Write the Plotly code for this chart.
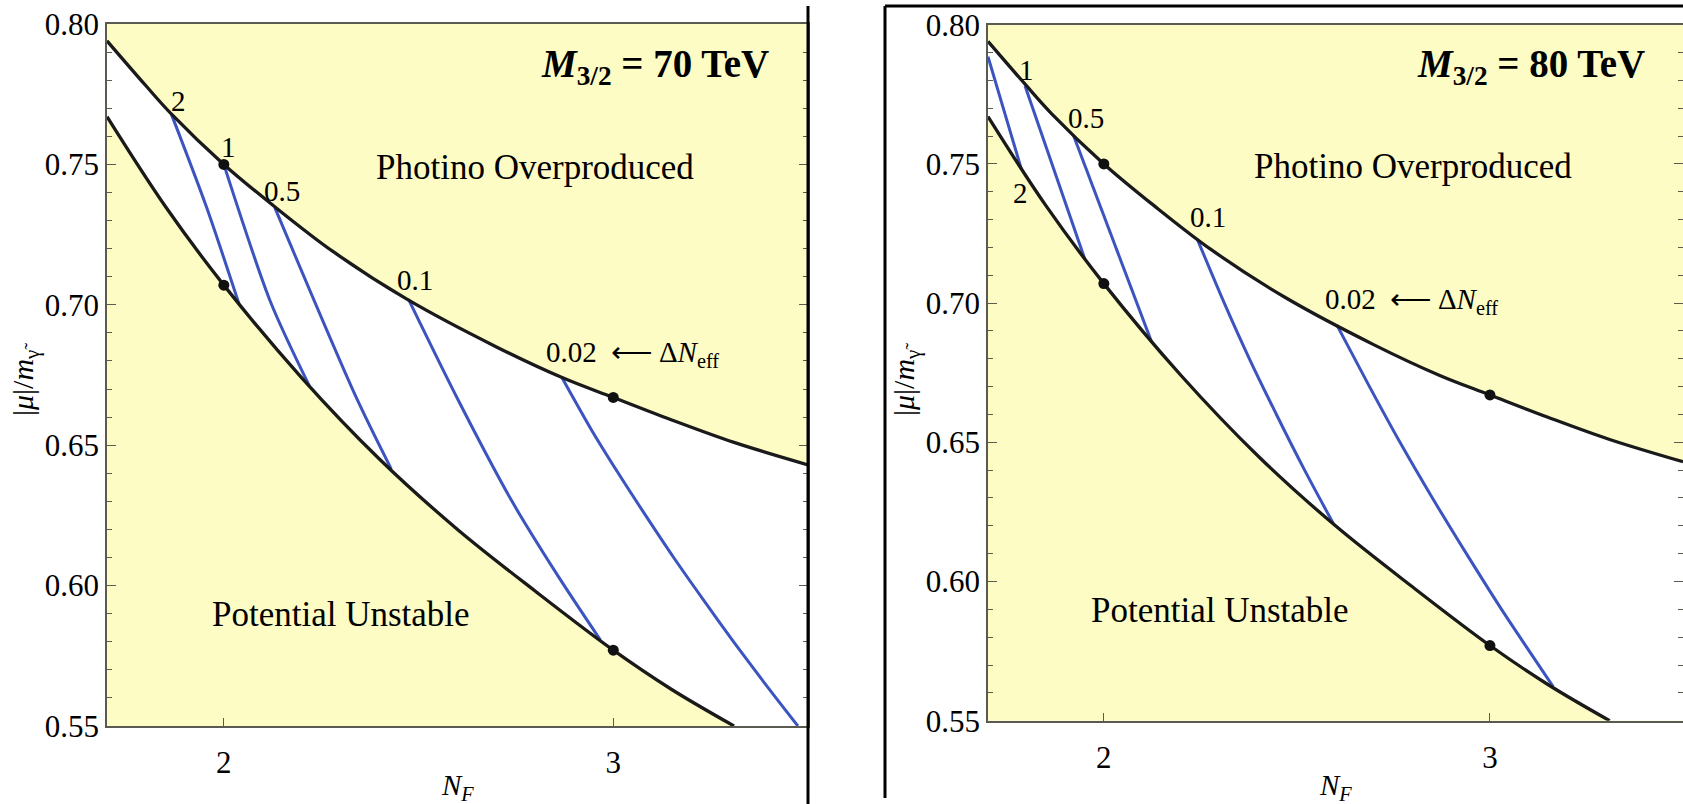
import plotly.graph_objects as go

# ---------------- data ----------------
X_RANGE = [1.7, 3.5]
Y_RANGE = [0.55, 0.80]
X_TICKS = [2, 3]
X_TOP_TICKS = [1.8, 1.9, 2.0, 2.1, 2.2, 2.3, 2.4, 2.5, 2.6, 2.7, 2.8, 2.9, 3.0, 3.1, 3.2, 3.3, 3.4]

# upper boundary (photino overproduced)
NF_UPPER = [1.70, 1.80, 1.865, 2.00, 2.13, 2.28, 2.47, 2.70, 2.87, 3.00, 3.15, 3.31, 3.50]
MU_UPPER = [0.794, 0.778, 0.768, 0.750, 0.735, 0.719, 0.702, 0.685, 0.674, 0.667, 0.659, 0.651, 0.643]
# lower boundary (potential unstable)
NF_LOWER = [1.70, 1.85, 2.00, 2.20, 2.40, 2.60, 2.80, 3.00, 3.15, 3.31]
MU_LOWER = [0.767, 0.735, 0.707, 0.674, 0.645, 0.620, 0.598, 0.577, 0.563, 0.550]

# marked points
NF_DOTS = [2, 3, 2, 3]
MU_DOTS = [0.750, 0.667, 0.707, 0.577]

# Delta N_eff contours, M_3/2 = 70 TeV
C70 = {
    "2":    ([1.865, 1.955, 2.039], [0.768, 0.735, 0.7003]),
    "1":    ([2.00, 2.12, 2.22], [0.750, 0.701, 0.671]),
    "0.5":  ([2.131, 2.34, 2.43], [0.7346, 0.667, 0.6415]),
    "0.1":  ([2.474, 2.602, 2.74, 2.86, 2.967], [0.702, 0.666, 0.630, 0.603, 0.5806]),
    "0.02": ([2.867, 2.946, 3.013, 3.083, 3.155, 3.231, 3.309, 3.390, 3.474],
             [0.6744, 0.655, 0.640, 0.625, 0.610, 0.595, 0.580, 0.565, 0.550]),
}
# Delta N_eff contours, M_3/2 = 80 TeV
C80 = {
    "2":    ([1.70, 1.786], [0.7885, 0.7483]),
    "1":    ([1.796, 1.950], [0.778, 0.7161]),
    "0.5":  ([1.922, 2.123], [0.760, 0.6863]),
    "0.1":  ([2.242, 2.312, 2.377, 2.447, 2.520, 2.594],
             [0.723, 0.700, 0.680, 0.660, 0.640, 0.6209]),
    "0.02": ([2.604, 2.688, 2.767, 2.851, 2.939, 3.030, 3.164],
             [0.692, 0.670, 0.650, 0.630, 0.610, 0.590, 0.5622]),
}

# contour label positions (N_F, mu)
LAB70 = {"2": (1.8825, 0.7727), "1": (2.011, 0.7563), "0.5": (2.150, 0.7406), "0.1": (2.491, 0.709)}
LAB80 = {"2": (1.783, 0.7397), "1": (1.800, 0.7837), "0.5": (1.953, 0.7664), "0.1": (2.270, 0.7309)}
NEFF70 = (2.8216, 0.6826)
NEFF80 = (2.568, 0.7009)
TITLE70 = (3.405, 0.7848)
TITLE80 = (3.406, 0.7849)
PHOTINO = (2.80, 0.749)
UNSTABLE = (2.30, 0.5896)

# ---------------- styling ----------------
W, H = 1683, 804
YELLOW = "#FCFCC4"
BLUE = "#3B54C0"
FONT = "Liberation Serif, Times New Roman, serif"
AXC = "#5a5a50"

fig = go.Figure()

panels = [
    dict(xa="x", ya="y", contours=C70, labels=LAB70, neff=NEFF70, title=TITLE70, mass="70"),
    dict(xa="x2", ya="y2", contours=C80, labels=LAB80, neff=NEFF80, title=TITLE80, mass="80"),
]

for p in panels:
    xa, ya = p["xa"], p["ya"]
    # allowed (white) region
    poly_x = NF_UPPER + [NF_UPPER[-1]] + NF_LOWER[::-1]
    poly_y = MU_UPPER + [Y_RANGE[0]] + MU_LOWER[::-1]
    fig.add_trace(go.Scatter(x=poly_x, y=poly_y, xaxis=xa, yaxis=ya, mode="lines",
                             fill="toself", fillcolor="white", line=dict(width=0),
                             hoverinfo="skip", showlegend=False))
    # contours
    for k, (xs, ys) in p["contours"].items():
        fig.add_trace(go.Scatter(x=xs, y=ys, xaxis=xa, yaxis=ya, mode="lines",
                                 line=dict(color=BLUE, width=3, shape="spline", smoothing=0.8),
                                 showlegend=False))
    # boundaries
    for xs, ys in [(NF_UPPER, MU_UPPER), (NF_LOWER, MU_LOWER)]:
        fig.add_trace(go.Scatter(x=xs, y=ys, xaxis=xa, yaxis=ya, mode="lines",
                                 line=dict(color="#1a1a1a", width=3.3, shape="spline"),
                                 showlegend=False))
    fig.add_trace(go.Scatter(x=NF_DOTS, y=MU_DOTS, xaxis=xa, yaxis=ya, mode="markers",
                             marker=dict(color="#111", size=11), showlegend=False))

    ann = []
    for k, (lx, ly) in p["labels"].items():
        ann.append(dict(x=lx, y=ly, xref=xa, yref=ya, text=k, showarrow=False,
                        font=dict(family=FONT, size=29, color="black"),
                        xanchor="center", yanchor="middle"))
    ann.append(dict(x=p["neff"][0], y=p["neff"][1], xref=xa, yref=ya,
                    text="0.02&nbsp;&nbsp;⟵ Δ<i>N</i><sub>eff</sub>", showarrow=False,
                    font=dict(family=FONT, size=29, color="black"),
                    xanchor="left", yanchor="middle"))
    ann.append(dict(x=p["title"][0], y=p["title"][1], xref=xa, yref=ya,
                    text="<b><i>M</i><sub>3/2</sub> = " + p["mass"] + " TeV</b>",
                    showarrow=False, font=dict(family=FONT, size=39, color="black"),
                    xanchor="right", yanchor="middle"))
    ann.append(dict(x=PHOTINO[0], y=PHOTINO[1], xref=xa, yref=ya, text="Photino Overproduced",
                    showarrow=False, xanchor="center", yanchor="middle",
                    font=dict(family=FONT, size=35, color="black")))
    ann.append(dict(x=UNSTABLE[0], y=UNSTABLE[1], xref=xa, yref=ya, text="Potential Unstable",
                    showarrow=False, xanchor="center", yanchor="middle",
                    font=dict(family=FONT, size=35, color="black")))
    for a in ann:
        fig.add_annotation(**a)

# axis titles
for xc, xt in [(25 / W, 457 / W), (906 / W, 1335.5 / W)]:
    fig.add_annotation(x=xc, y=1 - 380 / H, xref="paper", yref="paper",
                       text="|<i>μ</i>|/<i>m</i><sub>γ̃</sub>", textangle=-90,
                       xanchor="center", yanchor="middle",
                       showarrow=False, font=dict(family=FONT, size=30, color="black"))
    fig.add_annotation(x=xt, y=1 - 787 / H, xref="paper", yref="paper",
                       text="<i>N<sub>F</sub></i>", showarrow=False,
                       xanchor="center", yanchor="middle",
                       font=dict(family=FONT, size=29, color="black"))

xdom1 = [107 / W, 808 / W]
ydom1 = [1 - 726 / H, 1 - 24 / H]
xdom2 = [988 / W, 1.0]
ydom2 = [1 - 720.7 / H, 1 - 24.7 / H]

def xaxis(dom, anchor):
    return dict(domain=dom, range=X_RANGE, anchor=anchor, tickvals=X_TICKS,
                ticks="inside", ticklen=8, tickwidth=1.2, tickcolor=AXC,
                showline=True, linecolor=AXC, linewidth=1.6, mirror=True,
                showgrid=False, zeroline=False, ticklabelstandoff=8,
                tickfont=dict(family=FONT, size=31, color="black"))

def topaxis(dom, overl, anchor):
    return dict(domain=dom, range=X_RANGE, overlaying=overl, side="top", anchor=anchor,
                tickvals=X_TOP_TICKS, ticks="inside", ticklen=5, tickwidth=1.2,
                tickcolor=AXC, showticklabels=False, showline=False,
                showgrid=False, zeroline=False)

def yaxis(dom, anchor):
    return dict(domain=dom, range=Y_RANGE, anchor=anchor, tickmode="linear", tick0=0.55,
                dtick=0.05, tickformat=".2f", ticks="inside", ticklen=9, tickwidth=1.2,
                tickcolor=AXC, showline=True, linecolor=AXC, linewidth=1.6, mirror="ticks",
                showgrid=False, zeroline=False,
                minor=dict(tick0=0.55, dtick=0.01, ticks="inside", ticklen=5,
                           tickwidth=1.2, tickcolor=AXC, showgrid=False),
                tickfont=dict(family=FONT, size=31, color="black"))

fig.update_layout(
    width=W, height=H, margin=dict(l=0, r=0, t=0, b=0, autoexpand=False),
    paper_bgcolor="white", plot_bgcolor=YELLOW, showlegend=False,
    font=dict(family=FONT, color="black"),
    xaxis=xaxis(xdom1, "y"), yaxis=yaxis(ydom1, "x"),
    xaxis2=xaxis(xdom2, "y2"), yaxis2=yaxis(ydom2, "x2"),
    xaxis3=topaxis(xdom1, "x", "y"), xaxis4=topaxis(xdom2, "x2", "y2"),
    shapes=[
        dict(type="line", xref="paper", yref="paper", x0=808 / W, x1=808 / W,
             y0=0, y1=1 - 6 / H, line=dict(color="black", width=3)),
        dict(type="line", xref="paper", yref="paper", x0=885 / W, x1=885 / W,
             y0=1 - 798 / H, y1=1 - 6 / H, line=dict(color="black", width=3)),
        dict(type="line", xref="paper", yref="paper", x0=885 / W, x1=1.0,
             y0=1 - 6 / H, y1=1 - 6 / H, line=dict(color="black", width=3)),
    ],
)

fig.write_html("out.html")
